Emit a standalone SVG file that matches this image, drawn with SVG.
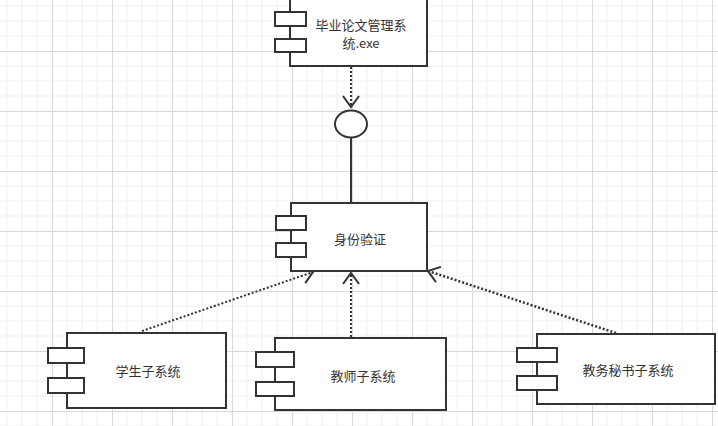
<svg xmlns="http://www.w3.org/2000/svg" width="718" height="426" viewBox="0 0 718 426">
<style>
.box{fill:#fff;stroke:#333;stroke-width:2}
.t{font-family:"Noto Sans CJK SC","Liberation Sans",sans-serif;font-size:13px;fill:#333;text-anchor:middle;dominant-baseline:central}
.dep{fill:none;stroke:#333;stroke-width:2;stroke-dasharray:2 2;marker-end:url(#open)}
.sol{fill:none;stroke:#333;stroke-width:2}
</style>
<defs>
<pattern id="grid" x="52" y="51" width="60" height="60" patternUnits="userSpaceOnUse">
<path d="M15,0V60M30,0V60M45,0V60M0,15H60M0,30H60M0,45H60" stroke="#efefef" stroke-width="1" fill="none"/>
<path d="M0.5,0V60M0,0.5H60" stroke="#d9d9d9" stroke-width="1" fill="none"/>
</pattern>
<marker id="open" markerUnits="userSpaceOnUse" markerWidth="20" markerHeight="20" viewBox="-14 -10 16 20" refX="0" refY="0" orient="auto">
<path d="M-11,-8 L0,0 L-11,8" fill="none" stroke="#333" stroke-width="2"/>
</marker>
</defs>
<rect width="718" height="426" fill="#fff"/>
<rect width="718" height="426" fill="url(#grid)"/>
<g id="connectors">
<path class="dep" d="M351,67 V107"/>
<path class="sol" d="M351,137 V203"/>
<path class="dep" d="M142,331 L313,272"/>
<path class="dep" d="M351,337 V273"/>
<path class="dep" d="M616,333 L428,271" style="stroke-width:2.5"/>
</g>
<g id="interface">
<ellipse cx="351" cy="124" rx="16" ry="13.5" class="box"/>
</g>
<g id="exe">
<rect class="box" x="290" y="-2" width="137" height="68"/>
<rect class="box" x="275" y="12" width="31" height="14"/>
<rect class="box" x="275" y="39" width="31" height="13"/>
<text class="t" x="361" y="24">毕业论文管理系</text>
<text class="t" x="361" y="42">统.exe</text>
</g>
<g id="auth">
<rect class="box" x="291" y="203" width="136" height="68"/>
<rect class="box" x="276" y="216" width="30" height="14"/>
<rect class="box" x="276" y="243" width="30" height="14"/>
<text class="t" x="360" y="238">身份验证</text>
</g>
<g id="student">
<rect class="box" x="67" y="333" width="159" height="75"/>
<rect class="box" x="48" y="348" width="36" height="15"/>
<rect class="box" x="48" y="378" width="36" height="15"/>
<text class="t" x="148" y="370">学生子系统</text>
</g>
<g id="teacher">
<rect class="box" x="275" y="338" width="171" height="72"/>
<rect class="box" x="256" y="352" width="38" height="15"/>
<rect class="box" x="256" y="382" width="38" height="14"/>
<text class="t" x="363" y="375">教师子系统</text>
</g>
<g id="secretary">
<rect class="box" x="537" y="334" width="178" height="70"/>
<rect class="box" x="517" y="348" width="40" height="14"/>
<rect class="box" x="517" y="376" width="40" height="14"/>
<text class="t" x="628" y="369">教务秘书子系统</text>
</g>
</svg>
